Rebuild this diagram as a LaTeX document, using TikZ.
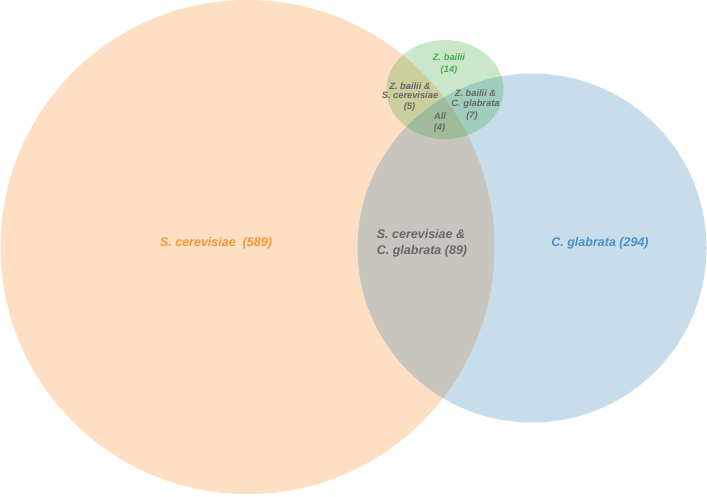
\documentclass[tikz,border=0pt]{standalone}
\usepackage{fontspec}
\setmainfont{Liberation Sans}
\definecolor{cor}{HTML}{FF7F0E}
\definecolor{cbl}{HTML}{1F77B4}
\definecolor{cgr}{HTML}{2CA02C}
\definecolor{torange}{HTML}{F7953B}
\definecolor{tblue}{HTML}{4A8FC6}
\definecolor{tgreen}{HTML}{45B045}
\definecolor{tgray}{HTML}{666666}
\begin{document}
\begin{tikzpicture}[x=1pt,y=-1pt,
  setbig/.style={font=\fontsize{12.5}{17}\selectfont\bfseries\itshape},
  setsmall/.style={font=\fontsize{9.3}{10}\selectfont\bfseries\itshape},
  lab/.style={inner sep=0pt, align=center}]
\useasboundingbox (0,0) rectangle (707,496);
\fill[cor, fill opacity=0.25] (247.5,247) circle (247);
\fill[cbl, fill opacity=0.25] (532,248) circle (174.5);
\fill[cgr, fill opacity=0.25] (445,89.5) ellipse (58.5 and 49.5);
\node[lab, setbig, text=torange] (sc) at (216,243) {S. cerevisiae\ \ (589)};
\node[lab, setbig, text=tblue] (cg) at (600,243) {C. glabrata (294)};
\node[lab, setbig, text=tgray] (sccg1) at (421,234) {S. cerevisiae \&};
\node[lab, setbig, text=tgray] (sccg2) at (422,251) {C. glabrata (89)};
\node[lab, setsmall, text=tgreen] (zb1) at (449,57) {Z. bailii};
\node[lab, setsmall, text=tgreen] (zb2) at (449,70) {(14)};
\node[lab, setsmall, text=tgray] (zbsc1) at (410,86) {Z. bailii \&};
\node[lab, setsmall, text=tgray] (zbsc2) at (410,95) {S. cerevisiae};
\node[lab, setsmall, text=tgray] (zbsc3) at (409.5,107) {(5)};
\node[lab, setsmall, text=tgray] (zbcg1) at (475.5,93) {Z. bailii \&};
\node[lab, setsmall, text=tgray] (zbcg2) at (475.5,104.5) {C. glabrata};
\node[lab, setsmall, text=tgray] (zbcg3) at (472,116) {(7)};
\node[lab, setsmall, text=tgray] (all1) at (440,116) {All};
\node[lab, setsmall, text=tgray] (all2) at (439.5,128.5) {(4)};
\end{tikzpicture}
\end{document}
